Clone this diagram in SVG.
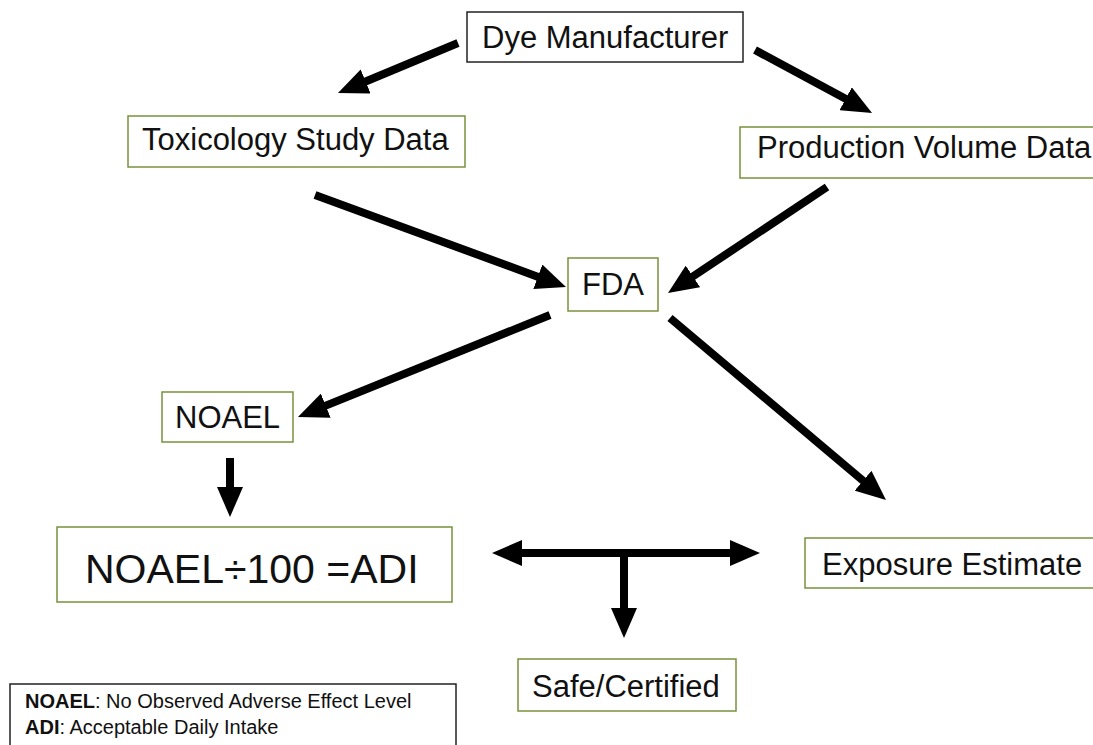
<svg xmlns="http://www.w3.org/2000/svg" width="1093" height="745" viewBox="0 0 1093 745">
<style>
.box{fill:#fff;stroke:#77933c;stroke-width:1.5}
.bbox{fill:#fff;stroke:#222;stroke-width:1.5}
.t{font-family:"Liberation Sans",Arial,sans-serif;font-size:31px;fill:#111}
.big{font-size:41px}
.leg{font-family:"Liberation Sans",Arial,sans-serif;font-size:20px;fill:#111}
.arr{stroke:#000;stroke-width:8;fill:none;marker-end:url(#ah)}
</style>
<defs>
<marker id="ah" markerUnits="userSpaceOnUse" markerWidth="30" markerHeight="26" viewBox="0 0 30 26" refX="2" refY="13" orient="auto-start-reverse">
<path d="M0,0 L30,13 L0,26 z" fill="#000"/>
</marker>
</defs>
<rect width="1093" height="745" fill="#fff"/>
<g id="connectors">
<line class="arr" x1="458" y1="43" x2="363.8" y2="82.2"/>
<line class="arr" x1="755" y1="50" x2="847.4" y2="99.7"/>
<line class="arr" x1="315" y1="195" x2="539.7" y2="277.4"/>
<line class="arr" x1="827" y1="187" x2="691.3" y2="277.5"/>
<line class="arr" x1="550" y1="315" x2="323.9" y2="406.4"/>
<line class="arr" x1="670" y1="318" x2="864.6" y2="482"/>
<line class="arr" x1="230" y1="458" x2="230" y2="489"/>
<line class="arr" x1="520" y1="553" x2="732" y2="553" marker-start="url(#ah)"/>
<line class="arr" x1="624" y1="553" x2="624" y2="610"/>
</g>
<g id="dye">
<rect class="bbox" x="467" y="12" width="276" height="50"/>
<text class="t" x="482" y="48">Dye Manufacturer</text>
</g>
<g id="tox">
<rect class="box" x="128" y="116" width="337" height="51"/>
<text class="t" x="142" y="150">Toxicology Study Data</text>
</g>
<g id="prod">
<rect class="box" x="740" y="127" width="370" height="51"/>
<text class="t" x="757" y="158">Production Volume Data</text>
</g>
<g id="fda">
<rect class="box" x="568" y="258" width="90" height="53"/>
<text class="t" x="582" y="295">FDA</text>
</g>
<g id="noael">
<rect class="box" x="162" y="392" width="131" height="50"/>
<text class="t" x="175" y="428">NOAEL</text>
</g>
<g id="adi">
<rect class="box" x="57" y="527" width="395" height="75"/>
<text class="t big" x="85" y="583">NOAEL÷100 =ADI</text>
</g>
<g id="exposure">
<rect class="box" x="805" y="538" width="300" height="50"/>
<text class="t" x="822" y="575">Exposure Estimate</text>
</g>
<g id="safe">
<rect class="box" x="518" y="659" width="218" height="52"/>
<text class="t" x="532" y="697">Safe/Certified</text>
</g>
<g id="legend">
<rect class="bbox" x="10" y="684" width="446" height="70"/>
<text class="leg" x="25" y="708"><tspan font-weight="bold">NOAEL</tspan>: No Observed Adverse Effect Level</text>
<text class="leg" x="25" y="734"><tspan font-weight="bold">ADI</tspan>: Acceptable Daily Intake</text>
</g>
</svg>
